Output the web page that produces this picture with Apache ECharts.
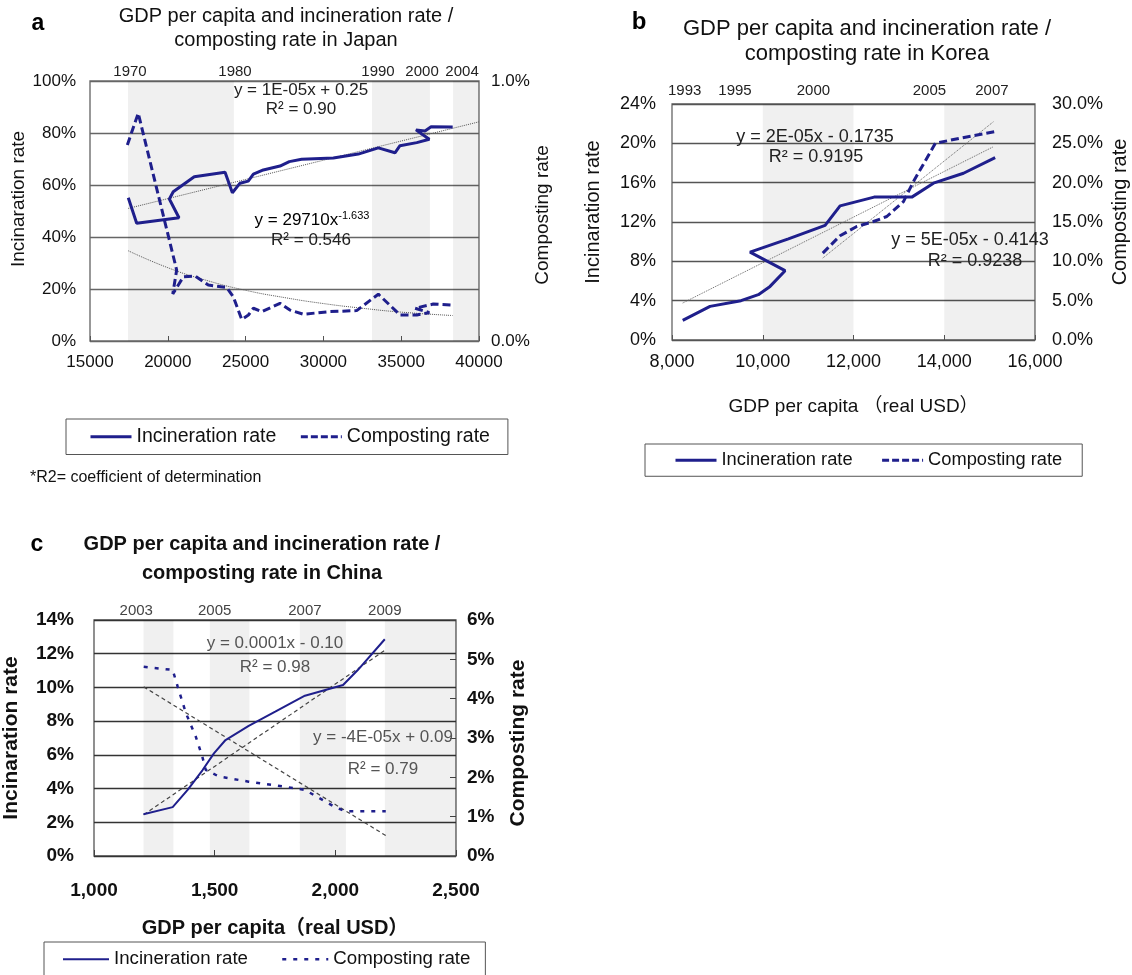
<!DOCTYPE html>
<html>
<head>
<meta charset="utf-8">
<script src="https://cdn.jsdelivr.net/npm/echarts@6/dist/echarts.min.js"></script>
<style>
html, body { margin: 0; padding: 0; background: #fff; }
#main { width: 1132px; height: 975px; }
</style>
</head>
<body>
<div id="main"></div>
<script>
var FONT = "'Liberation Sans', Arial, 'Noto Sans CJK JP', sans-serif";
var NAVY = '#1f1f8c';

// ---- a: Japan (x = GDP per capita, y = %)
var japanIncin = [[17460,55.1],[18000,45.3],[20720,47.4],[20100,54.6],[20350,57.4],[21700,63.2],[23680,64.9],[24150,57.0],
    [24640,60.7],[25170,61.5],[25500,64.2],[26140,65.8],[27210,67.3],[27810,69.0],[28600,69.9],[30640,70.4],[32240,71.9],
    [33530,74.3],[34600,72.4],[34920,75.1],[36000,76.3],[36810,77.6],[36320,79.6],[35950,81.2],[36530,80.8],[36920,82.4],[38310,82.3]];
var japanCompost = [[17400,0.754],[18100,0.876],[20570,0.273],[20320,0.181],[21000,0.247],[21750,0.25],[22600,0.215],[23780,0.206],
    [24210,0.17],[24750,0.083],[25180,0.10],[25500,0.126],[26040,0.113],[27210,0.145],[27850,0.119],[28710,0.103],[30420,0.113],
    [32140,0.117],[33530,0.18],[34600,0.119],[34920,0.10],[36000,0.10],[36810,0.109],[35890,0.126],[37060,0.142],[38310,0.138]];
var japanIncinTrend = [[17460,51.0],[40000,84.3]];
var japanCompostTrend = [[17460,0.347],[20000,0.282],[22500,0.233],[25000,0.195],[27500,0.167],[30000,0.144],[32500,0.126],[35000,0.111],[38300,0.098]];
var japanBands = [[17440,24250],[33120,36850],[38330,40000]];
var japanYears = ['1970','1980','1990','2000','2004'];
var japanYearX = [17570,24320,33510,36340,38910];

// ---- b: Korea
var koreaIncin = [[8236,2.0],[8838,3.42],[9521,4.0],[9903,4.61],[10161,5.45],[10492,7.05],[9720,8.94],[10565,10.29],[11374,11.65],
    [11704,13.64],[12454,14.53],[13285,14.53],[13762,15.95],[14424,16.96],[15122,18.55]];
var koreaCompost = [[11323,11.05],[11704,13.25],[12072,14.43],[12439,15.06],[12734,15.7],[13101,17.6],[13321,20.14],[13805,25.01],[14351,25.65],[15122,26.49]];
var koreaIncinTrend = [[8236,3.76],[15085,19.66]];
var koreaCompostTrend = [[11323,10.42],[15085,27.75]];
var koreaBands = [[10000,12000],[14000,16000]];
var koreaYears = ['1993','1995','2000','2005','2007'];
var koreaYearX = [8280,9389,11116,13674,15050];

// ---- c: China
var chinaIncin = [[1205,2.48],[1326,2.9],[1388,3.92],[1450,5.1],[1497,6.09],[1545,6.88],[1641,7.72],[1751,8.56],[1847,9.31],
    [1874,9.51],[2032,10.14],[2093,11.03],[2205,12.86]];
var chinaCompost = [[1206,4.81],[1326,4.73],[1347,4.30],[1381,3.63],[1422,3.03],[1449,2.52],[1463,2.19],[1518,2.02],[1641,1.89],
    [1792,1.76],[1874,1.68],[1997,1.25],[2041,1.14],[2209,1.14]];
var chinaIncinTrend = [[1206,2.45],[2205,12.2]];
var chinaCompostTrend = [[1206,4.3],[2209,0.52]];
var chinaBands = [[1205,1329],[1480,1644],[1853,2044],[2205,2500]];
var chinaYears = ['2003','2005','2007','2009'];
var chinaYearX = [1175,1500,1874,2205];

function bandData(bands) {
    return bands.map(function (b) { return [{ xAxis: b[0] }, { xAxis: b[1] }]; });
}
function yearData(xs, labels) {
    return xs.map(function (v, i) { return { xAxis: v, label: { formatter: labels[i] } }; });
}
function helper(xi, yi, data, lineStyle, bands, xs, labels, yearStyle) {
    return {
        type: 'line', xAxisIndex: xi, yAxisIndex: yi, data: data, symbol: 'none', z: 1,
        lineStyle: lineStyle, silent: true,
        markArea: { silent: true, itemStyle: { color: 'rgba(0,0,0,0.06)' }, data: bandData(bands) },
        markLine: {
            silent: true, symbol: ['none', 'none'],
            lineStyle: { color: 'rgba(0,0,0,0)', width: 0 },
            label: yearStyle,
            data: yearData(xs, labels)
        }
    };
}
function line(name, xi, yi, data, style) {
    return { name: name, type: 'line', xAxisIndex: xi, yAxisIndex: yi, data: data, symbol: 'none', z: 3,
             itemStyle: { color: NAVY }, lineStyle: style };
}
function legendItem(name, width, type) {
    return { name: name, itemStyle: { opacity: 0 }, lineStyle: { color: NAVY, width: width, type: type } };
}

var plain = function (v) { return String(v); };
var pct0 = function (v) { return v + '%'; };
var pct1 = function (v) { return v.toFixed(1) + '%'; };
var thousands = function (v) { return v.toLocaleString('en-US'); };

function yAxisCfg(grid, min, max, interval, fmt, name, gap, margin, font, pad, splitColor, extra) {
    var cfg = {
        type: 'value', gridIndex: grid, min: min, max: max, interval: interval,
        name: name, nameLocation: 'middle', nameGap: gap,
        nameTextStyle: { fontFamily: FONT, fontSize: font.name, fontWeight: font.weight, color: '#111', padding: pad },
        axisLine: { show: false }, axisTick: { show: false },
        axisLabel: { formatter: fmt, margin: margin, fontFamily: FONT, fontSize: font.label, fontWeight: font.weight, color: '#111' },
        splitLine: splitColor ? { lineStyle: { color: splitColor, width: 1.3 } } : { show: false }
    };
    if (extra) { for (var k in extra) cfg[k] = extra[k]; }
    return cfg;
}

var chart = echarts.init(document.getElementById('main'));
chart.setOption({
    animation: false,
    backgroundColor: '#fff',
    grid: [
        { left: 90, top: 81, width: 389, height: 260, show: true, borderColor: '#777', borderWidth: 1.5, backgroundColor: '#fff' },
        { left: 672, top: 104, width: 363, height: 236, show: true, borderColor: '#666', borderWidth: 1.3, backgroundColor: '#fff' },
        { left: 91, top: 620, width: 365, height: 236, show: true, borderColor: '#555', borderWidth: 1.3, backgroundColor: '#fff' }
    ],
    xAxis: [
        { type: 'value', gridIndex: 0, min: 15000, max: 40000, interval: 5000, axisLine: { show: false },
          axisTick: { show: true, inside: true, length: 5, lineStyle: { color: '#555' } }, splitLine: { show: false },
          axisLabel: { margin: 13, formatter: plain, fontFamily: FONT, fontSize: 17, color: '#111' } },
        { type: 'value', gridIndex: 1, min: 8000, max: 16000, interval: 2000, axisLine: { show: false },
          axisTick: { show: true, inside: true, length: 5, lineStyle: { color: '#555' } }, splitLine: { show: false },
          axisLabel: { margin: 13, formatter: thousands, fontFamily: FONT, fontSize: 18, color: '#111' },
          name: 'GDP per capita （real USD）', nameLocation: 'middle', nameGap: 57,
          nameTextStyle: { fontFamily: FONT, fontSize: 19, color: '#111' } },
        { type: 'value', gridIndex: 2, min: 1000, max: 2500, interval: 500, axisLine: { show: false },
          axisTick: { show: true, inside: true, length: 6, lineStyle: { color: '#444' } }, splitLine: { show: false },
          axisLabel: { margin: 25, formatter: thousands, fontFamily: FONT, fontSize: 19, fontWeight: 'bold', color: '#111' },
          name: 'GDP per capita（real USD）', nameLocation: 'middle', nameGap: 62,
          nameTextStyle: { fontFamily: FONT, fontSize: 20, fontWeight: 'bold', color: '#111' } }
    ],
    yAxis: [
        yAxisCfg(0, 0, 100, 20, pct0, 'Incinaration rate', 60, 14, { name: 19, label: 17, weight: 'normal' }, [0, 0, 0, 24], '#666'),
        yAxisCfg(0, 0, 1, 1, pct1, 'Composting rate', 40, 12, { name: 19, label: 17, weight: 'normal' }, [0, 8, 0, 0], null),
        yAxisCfg(1, 0, 24, 4, pct0, 'Incinaration rate', 69, 16, { name: 20, label: 18, weight: 'normal' }, [0, 0, 0, 20], '#555'),
        yAxisCfg(1, 0, 30, 5, pct1, 'Composting rate', 75, 17, { name: 20, label: 18, weight: 'normal' }, [0, 0, 0, 20], null),
        yAxisCfg(2, 0, 14, 2, pct0, 'Incinaration rate', 72, 20, { name: 21, label: 19, weight: 'bold' }, [0, 0, 0, 0], '#333'),
        yAxisCfg(2, 0, 6, 1, pct0, 'Composting rate', 52, 11, { name: 21, label: 19, weight: 'bold' }, [0, 10, 0, 0], null,
            { axisTick: { show: true, inside: true, length: 6, lineStyle: { color: '#444' } } })
    ],
    legend: [
        { left: 66, top: 419, padding: [8, 18, 8, 23], itemWidth: 41, itemHeight: 14, itemGap: 23, selectedMode: false,
          borderColor: '#555', borderWidth: 1, textStyle: { fontFamily: FONT, fontSize: 19.5, color: '#111' },
          data: [legendItem('Incineration rate', 3, 'solid'), legendItem('Composting rate', 3, [7, 3])] },
        { left: 645, top: 444, padding: [7, 20, 7, 29], itemWidth: 41, itemHeight: 14, itemGap: 28, selectedMode: false,
          borderColor: '#555', borderWidth: 1, textStyle: { fontFamily: FONT, fontSize: 18.3, color: '#111' },
          data: [legendItem('Incineration rate', 3, 'solid'), legendItem('Composting rate', 3, [7, 3])] },
        { left: 44, top: 942, padding: [8, 15, 8, 18], itemWidth: 46, itemHeight: 14, itemGap: 33, selectedMode: false,
          borderColor: '#555', borderWidth: 1, textStyle: { fontFamily: FONT, fontSize: 18.7, color: '#111' },
          data: [legendItem('Incineration rate', 2, 'solid'), legendItem('Composting rate', 2.5, [4, 7])] }
    ],
    graphic: [
        { type: 'text', x: 38, y: 24, style: { text: 'a', font: 'bold 23px ' + FONT, fill: '#000', textAlign: 'center', textVerticalAlign: 'middle' } },
        { type: 'text', x: 286, y: 28.5, style: { text: 'GDP per capita and incineration rate /\ncomposting rate in Japan', font: '20px ' + FONT, lineHeight: 23.3, fill: '#111', textAlign: 'center', textVerticalAlign: 'middle' } },
        { type: 'text', x: 639, y: 22, style: { text: 'b', font: 'bold 24px ' + FONT, fill: '#000', textAlign: 'center', textVerticalAlign: 'middle' } },
        { type: 'text', x: 867, y: 41, style: { text: 'GDP per capita and incineration rate /\ncomposting rate in Korea', font: '22px ' + FONT, lineHeight: 25, fill: '#111', textAlign: 'center', textVerticalAlign: 'middle' } },
        { type: 'text', x: 37, y: 545, style: { text: 'c', font: 'bold 23px ' + FONT, fill: '#000', textAlign: 'center', textVerticalAlign: 'middle' } },
        { type: 'text', x: 262, y: 559, style: { text: 'GDP per capita and incineration rate /\ncomposting rate in China', font: 'bold 20px ' + FONT, lineHeight: 28.3, fill: '#111', textAlign: 'center', textVerticalAlign: 'middle' } },

        { type: 'text', x: 301, y: 90, z: 10, style: { text: 'y = 1E-05x + 0.25', font: '17px ' + FONT, fill: '#222', textAlign: 'center', textVerticalAlign: 'middle' } },
        { type: 'text', x: 301, y: 109, z: 10, style: { text: 'R² = 0.90', font: '17px ' + FONT, fill: '#222', textAlign: 'center', textVerticalAlign: 'middle' } },
        { type: 'text', x: 312, y: 220, z: 10, style: { text: '{n|y = 29710x}{s|-1.633}', textAlign: 'center', textVerticalAlign: 'middle',
            rich: { n: { fontFamily: FONT, fontSize: 17, color: '#222', lineHeight: 20 }, s: { fontFamily: FONT, fontSize: 11, color: '#444', lineHeight: 11, verticalAlign: 'top' } } } },
        { type: 'text', x: 311, y: 240, z: 10, style: { text: 'R² = 0.546', font: '17px ' + FONT, fill: '#222', textAlign: 'center', textVerticalAlign: 'middle' } },

        { type: 'text', x: 815, y: 137, z: 10, style: { text: 'y = 2E-05x - 0.1735', font: '18px ' + FONT, fill: '#222', textAlign: 'center', textVerticalAlign: 'middle' } },
        { type: 'text', x: 816, y: 157, z: 10, style: { text: 'R² = 0.9195', font: '18px ' + FONT, fill: '#222', textAlign: 'center', textVerticalAlign: 'middle' } },
        { type: 'text', x: 970, y: 240, z: 10, style: { text: 'y = 5E-05x - 0.4143', font: '18px ' + FONT, fill: '#222', textAlign: 'center', textVerticalAlign: 'middle' } },
        { type: 'text', x: 975, y: 261, z: 10, style: { text: 'R² = 0.9238', font: '18px ' + FONT, fill: '#222', textAlign: 'center', textVerticalAlign: 'middle' } },

        { type: 'text', x: 275, y: 643, z: 10, style: { text: 'y = 0.0001x - 0.10', font: '17px ' + FONT, fill: '#555', textAlign: 'center', textVerticalAlign: 'middle' } },
        { type: 'text', x: 275, y: 667, z: 10, style: { text: 'R² = 0.98', font: '17px ' + FONT, fill: '#555', textAlign: 'center', textVerticalAlign: 'middle' } },
        { type: 'text', x: 383, y: 737, z: 10, style: { text: 'y = -4E-05x + 0.09', font: '17px ' + FONT, fill: '#555', textAlign: 'center', textVerticalAlign: 'middle' } },
        { type: 'text', x: 383, y: 769, z: 10, style: { text: 'R² = 0.79', font: '17px ' + FONT, fill: '#555', textAlign: 'center', textVerticalAlign: 'middle' } },

        { type: 'text', x: 30, y: 478, style: { text: '*R2= coefficient of determination', font: '16px ' + FONT, fill: '#111', textAlign: 'left', textVerticalAlign: 'middle' } }
    ],
    series: [
        helper(0, 0, japanIncinTrend, { color: '#555', width: 1, type: 'dotted' }, japanBands, japanYearX, japanYears,
            { position: 'end', distance: 2, fontFamily: FONT, fontSize: 15, color: '#222' }),
        { type: 'line', xAxisIndex: 0, yAxisIndex: 1, data: japanCompostTrend, smooth: true, symbol: 'none', z: 1, silent: true,
          lineStyle: { color: '#555', width: 1, type: 'dotted' } },
        line('Incineration rate', 0, 0, japanIncin, { color: NAVY, width: 3 }),
        line('Composting rate', 0, 1, japanCompost, { color: NAVY, width: 3, type: [8, 4] }),

        helper(1, 2, koreaIncinTrend, { color: '#666', width: 1, type: 'dotted' }, koreaBands, koreaYearX, koreaYears,
            { position: 'end', distance: 6, fontFamily: FONT, fontSize: 15, color: '#222' }),
        { type: 'line', xAxisIndex: 1, yAxisIndex: 3, data: koreaCompostTrend, symbol: 'none', z: 1, silent: true,
          lineStyle: { color: '#666', width: 1, type: 'dotted' } },
        line('Incineration rate', 1, 2, koreaIncin, { color: NAVY, width: 3 }),
        line('Composting rate', 1, 3, koreaCompost, { color: NAVY, width: 3, type: [8, 4] }),

        helper(2, 4, chinaIncinTrend, { color: '#444', width: 1.2, type: [4, 3] }, chinaBands, chinaYearX, chinaYears,
            { position: 'end', distance: 2, fontFamily: FONT, fontSize: 15, color: '#444' }),
        { type: 'line', xAxisIndex: 2, yAxisIndex: 5, data: chinaCompostTrend, symbol: 'none', z: 1, silent: true,
          lineStyle: { color: '#444', width: 1.2, type: [4, 3] } },
        line('Incineration rate', 2, 4, chinaIncin, { color: NAVY, width: 2 }),
        line('Composting rate', 2, 5, chinaCompost, { color: NAVY, width: 2.5, type: [4, 7] })
    ]
});
</script>
</body>
</html>
